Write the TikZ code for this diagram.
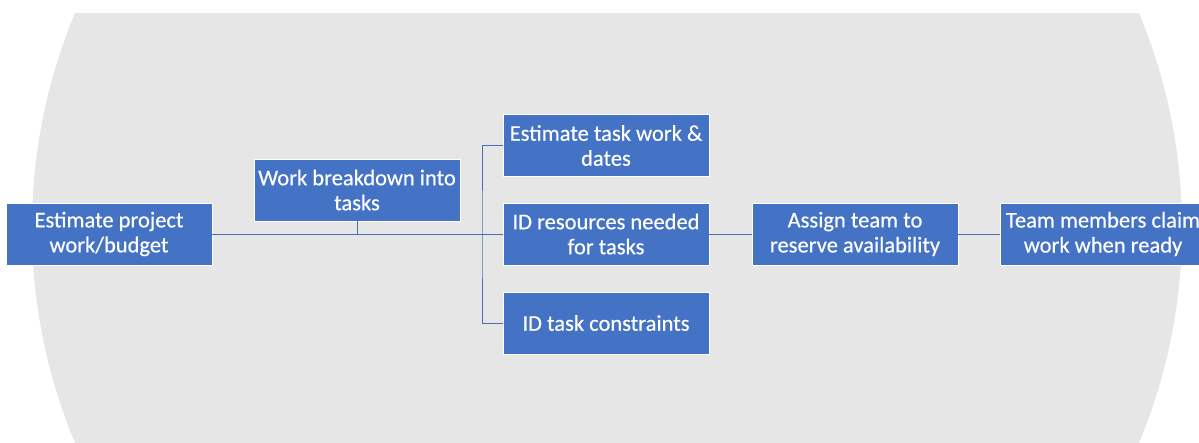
\documentclass[tikz,border=0pt]{standalone}
\usepackage{fontspec}
\setmainfont{Carlito}[FakeBold=0.4]
\definecolor{boxblue}{HTML}{4472C4}
\definecolor{linkblue}{HTML}{4A6FB0}
\definecolor{bggray}{HTML}{E6E6E6}
\tikzset{
  stepbox/.style={rectangle, fill=boxblue, draw=white, line width=0.8pt,
    minimum width=206pt, minimum height=62pt, inner sep=2pt,
    text=white, align=center, font=\fontsize{22.5}{25}\selectfont},
  link/.style={draw=linkblue, line width=1pt}
}
\begin{document}
\begin{tikzpicture}[x=1pt,y=-1pt]
\useasboundingbox (0,0) rectangle (1199,442);
\clip (0,0) rectangle (1199,442);
\begin{scope}
  \clip (0,13) rectangle (1199,442);
  \fill[bggray] (607,228) ellipse [x radius=575, y radius=565];
\end{scope}
\node[stepbox] (b1) at (109,234) {Estimate project\\work/budget};
\node[stepbox] (b2) at (357,190) {Work breakdown into\\tasks};
\node[stepbox] (b3) at (606,145.5) {Estimate task work \&\\dates};
\node[stepbox] (b4) at (606,234) {ID resources needed\\for tasks};
\node[stepbox] (b5) at (606,323) {ID task constraints};
\node[stepbox] (b6) at (855,234) {Assign team to\\reserve availability};
\node[stepbox] (b7) at (1103,234) {Team members claim\\work when ready};
\coordinate (j) at (482,234);
\draw[link] (b1.east) -- (b4.west);
\draw[link] (b2.south) -- (b2.south |- b1.east);
\draw[link] (b3.west) -| (j) |- (b5.west);
\draw[link] (b4.east) -- (b6.west);
\draw[link] (b6.east) -- (b7.west);
\end{tikzpicture}
\end{document}
